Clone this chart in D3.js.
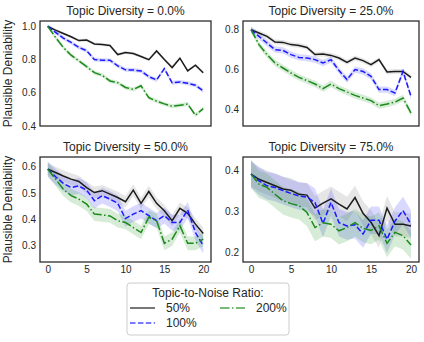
<!DOCTYPE html>
<html><head><meta charset="utf-8">
<script src="https://cdn.jsdelivr.net/npm/d3@7"></script>
<style>
body{margin:0;background:#fff;}
text{font-family:"Liberation Sans",Arial,sans-serif;fill:#262626;}
</style></head>
<body><svg id="c" width="424" height="342"></svg>
<script>
const steps = d3.range(0, 21);
const panelTitles = ["Topic Diversity = 0.0%","Topic Diversity = 25.0%","Topic Diversity = 50.0%","Topic Diversity = 75.0%"];
const seriesNames = ["50%","100%","200%"];
const legendTitle = "Topic-to-Noise Ratio:";
const yLabel = "Plausible Deniability";

// values per panel: [50%, 100%, 200%]
const td0_50  = [1.0,0.977,0.957,0.937,0.914,0.917,0.894,0.89,0.885,0.83,0.842,0.836,0.818,0.799,0.852,0.80,0.752,0.808,0.732,0.766,0.72];
const td0_100 = [1.0,0.964,0.929,0.903,0.873,0.853,0.80,0.796,0.796,0.762,0.738,0.737,0.731,0.697,0.677,0.745,0.66,0.665,0.657,0.645,0.612];
const td0_200 = [1.0,0.933,0.873,0.826,0.792,0.758,0.721,0.705,0.671,0.661,0.632,0.62,0.642,0.57,0.55,0.533,0.519,0.525,0.532,0.465,0.505];

const td25_50  = [0.797,0.78,0.763,0.735,0.733,0.722,0.718,0.708,0.672,0.675,0.668,0.655,0.633,0.655,0.642,0.622,0.647,0.585,0.588,0.588,0.558];
const td25_100 = [0.797,0.763,0.73,0.697,0.693,0.672,0.658,0.655,0.647,0.63,0.647,0.592,0.547,0.597,0.588,0.563,0.497,0.497,0.48,0.588,0.463];
const td25_200 = [0.797,0.722,0.672,0.63,0.605,0.58,0.558,0.542,0.525,0.502,0.525,0.502,0.485,0.468,0.455,0.442,0.417,0.425,0.435,0.455,0.38];

const td50_50  = [0.591,0.578,0.565,0.553,0.544,0.521,0.502,0.509,0.496,0.483,0.467,0.511,0.461,0.506,0.461,0.433,0.395,0.442,0.423,0.382,0.346];
const td50_100 = [0.591,0.562,0.537,0.521,0.527,0.511,0.471,0.49,0.477,0.461,0.403,0.42,0.433,0.414,0.395,0.414,0.388,0.388,0.436,0.35,0.30];
const td50_200 = [0.591,0.553,0.515,0.49,0.477,0.458,0.42,0.417,0.413,0.395,0.388,0.369,0.35,0.408,0.395,0.309,0.325,0.376,0.309,0.309,0.325];

const td75_50  = [0.392,0.379,0.371,0.363,0.355,0.352,0.342,0.34,0.308,0.32,0.331,0.318,0.306,0.334,0.295,0.273,0.24,0.308,0.268,0.268,0.264];
const td75_100 = [0.392,0.375,0.363,0.359,0.351,0.344,0.338,0.335,0.322,0.27,0.322,0.272,0.264,0.267,0.244,0.278,0.278,0.231,0.276,0.302,0.268];
const td75_200 = [0.392,0.367,0.359,0.342,0.326,0.319,0.314,0.297,0.26,0.272,0.268,0.252,0.26,0.272,0.258,0.253,0.264,0.221,0.248,0.24,0.217];

// confidence band half-widths per panel: [50%, 100%, 200%]
const band0  = [0.009,0.012,0.012];
const band25 = [0.012,0.016,0.016];
const band50 = [0.022,0.03,0.026];
const band75 = [0.03,0.034,0.034];

const yTicks0  = [0.4,0.6,0.8,1.0];
const yTicks25 = [0.4,0.6,0.8];
const yTicks50 = [0.3,0.4,0.5,0.6];
const yTicks75 = [0.2,0.3,0.4];
const xTicks = [0,5,10,15,20];

const yDomains = [[0.4,1.032],[0.315,0.84],[0.238,0.637],[0.175,0.434]];

const panels = [
  {title:panelTitles[0], series:[td0_50,td0_100,td0_200], band:band0, yTicks:yTicks0, yDom:yDomains[0], x0:40, y0:21, showX:false, showYLabel:true},
  {title:panelTitles[1], series:[td25_50,td25_100,td25_200], band:band25, yTicks:yTicks25, yDom:yDomains[1], x0:243, y0:21, showX:false, showYLabel:false},
  {title:panelTitles[2], series:[td50_50,td50_100,td50_200], band:band50, yTicks:yTicks50, yDom:yDomains[2], x0:40, y0:157, showX:true, showYLabel:true},
  {title:panelTitles[3], series:[td75_50,td75_100,td75_200], band:band75, yTicks:yTicks75, yDom:yDomains[3], x0:243, y0:157, showX:true, showYLabel:false}
];
const W = [171, 176], H = 105;

const lineColors = ["#1c1c1c","#1a1aff","#1a8a1a"];
const bandColors = ["#808080","#4040ff","#33a033"];
const legendColors = ["#4a4a4a","#4d4dff","#4da64d"];
const dashes = [null,"5.5,2.4","9.6,2.4,1.5,2.4"];

const svg = d3.select("#c");

panels.forEach((p, pi) => {
  const w = pi % 2 === 0 ? W[0] : W[1];
  const g = svg.append("g").attr("transform", `translate(${p.x0},${p.y0})`);
  const x = d3.scaleLinear().domain([-1, 21]).range([0, w]);
  const y = d3.scaleLinear().domain(p.yDom).range([H, 0]);
  const clipId = "clip" + pi;
  g.append("clipPath").attr("id", clipId).append("rect").attr("width", w).attr("height", H);
  const plot = g.append("g").attr("clip-path", `url(#${clipId})`);

  p.series.forEach((vals, si) => {
    const hw = p.band[si];
    const area = d3.area().x((d, i) => x(steps[i])).y0(d => y(d - hw)).y1(d => y(d + hw));
    plot.append("path").attr("d", area(vals)).attr("fill", bandColors[si]).attr("fill-opacity", 0.2).attr("stroke", "none");
  });
  [0,1,2].forEach(si => {
    const vals = p.series[si];
    const line = d3.line().x((d, i) => x(steps[i])).y(d => y(d));
    plot.append("path").attr("d", line(vals)).attr("fill", "none")
      .attr("stroke", lineColors[si]).attr("stroke-width", 1.5)
      .attr("stroke-dasharray", dashes[si]);
  });

  // axes
  const ya = d3.axisLeft(y).tickValues(p.yTicks).tickSize(0).tickPadding(4).tickFormat(d3.format(".1f"));
  const yg = g.append("g").call(ya);
  yg.select(".domain").remove();
  yg.selectAll("text").style("font-size", "10px").attr("fill", "#262626");
  if (p.showX) {
    const xa = d3.axisBottom(x).tickValues(xTicks).tickSize(0).tickPadding(4);
    const xg = g.append("g").attr("transform", `translate(0,${H})`).call(xa);
    xg.select(".domain").remove();
    xg.selectAll("text").style("font-size", "10px").attr("fill", "#262626");
  }
  g.append("rect").attr("width", w).attr("height", H).attr("fill", "none")
    .attr("stroke", "#262626").attr("stroke-width", 1.25);
  g.append("text").attr("x", w / 2).attr("y", -6).attr("text-anchor", "middle")
    .style("font-size", "12px").text(p.title);
  if (p.showYLabel) {
    g.append("text").attr("transform", `translate(${-28},${H / 2}) rotate(-90)`)
      .attr("text-anchor", "middle").style("font-size", "12px").text(yLabel);
  }
});

// legend
const lg = svg.append("g").attr("transform", "translate(127,283)");
lg.append("rect").attr("width", 162).attr("height", 52).attr("rx", 3)
  .attr("fill", "#fff").attr("stroke", "#cccccc").attr("stroke-width", 1);
lg.append("text").attr("x", 81).attr("y", 14).attr("text-anchor", "middle")
  .style("font-size", "12px").text(legendTitle);
const legPos = [[3, 25], [3, 40], [93, 25]];
seriesNames.forEach((name, si) => {
  const [lx, ly] = legPos[si];
  lg.append("line").attr("x1", lx).attr("x2", lx + 25).attr("y1", ly).attr("y2", ly)
    .attr("stroke", legendColors[si]).attr("stroke-width", 1.5).attr("stroke-dasharray", dashes[si]);
  lg.append("text").attr("x", lx + 36).attr("y", ly + 4).style("font-size", "12px").text(name);
});
</script></body></html>
